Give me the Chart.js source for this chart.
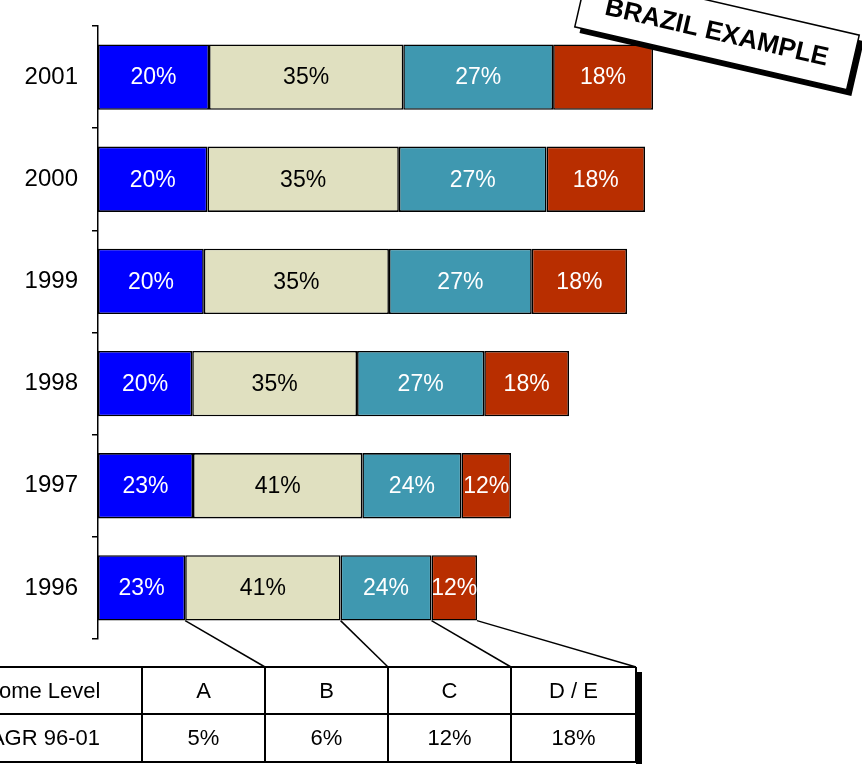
<!DOCTYPE html>
<html>
<head>
<meta charset="utf-8">
<script src="https://cdn.jsdelivr.net/npm/chart.js@4/dist/chart.umd.min.js"></script>
<style>
  html, body { margin: 0; padding: 0; background: #fff; }
  #wrap { width: 862px; height: 764px; }
</style>
</head>
<body>
<div id="wrap"><canvas id="c" width="862" height="764"></canvas></div>
<script>
// Market volume by year, split by income level
const years = ['2001', '2000', '1999', '1998', '1997', '1996'];
const totals = [555, 547, 529, 471, 413, 379];
const shareA = [20, 20, 20, 20, 23, 23];
const shareB = [35, 35, 35, 35, 41, 41];
const shareC = [27, 27, 27, 27, 24, 24];
const shareDE = [18, 18, 18, 18, 12, 12];

const levelNames = ['A', 'B', 'C', 'D / E'];
const tableRowLabels = ['Income Level', 'CAGR 96-01'];
const cagr = ['5%', '6%', '12%', '18%'];

const FONT = '"Liberation Sans", Arial, sans-serif';
const shares = [shareA, shareB, shareC, shareDE];
const fills = ['#0000FF', '#E0E0C0', '#3F98B0', '#B82E00'];
const labelColors = ['#FFFFFF', '#000000', '#FFFFFF', '#FFFFFF'];

const datasets = shares.map((s, i) => ({
  label: levelNames[i],
  data: s.map((p, j) => totals[j] * p / 100),
  backgroundColor: fills[i],
  borderColor: '#000',
  borderWidth: 1.6,
  borderSkipped: false,
  barPercentage: 0.64,
  categoryPercentage: 1
}));

// Percentage labels centred in each segment
const shareLabels = {
  id: 'shareLabels',
  afterDatasetsDraw(chart) {
    const ctx = chart.ctx;
    ctx.save();
    ctx.font = '23px ' + FONT;
    ctx.textAlign = 'center';
    ctx.textBaseline = 'middle';
    chart.data.datasets.forEach((ds, i) => {
      chart.getDatasetMeta(i).data.forEach((el, j) => {
        ctx.fillStyle = labelColors[i];
        ctx.fillText(shares[i][j] + '%', (el.x + el.base) / 2, el.y + 1);
      });
    });
    ctx.restore();
  }
};

// Growth table below the chart, linked to the 1996 bar
const growthTable = {
  id: 'growthTable',
  afterDraw(chart) {
    const ctx = chart.ctx;
    const colRight = [142, 265, 388, 511, 636];
    const rowY = [667, 714, 762];
    const last = years.length - 1;
    ctx.save();

    // connector lines from segment ends of the 1996 bar to the columns
    ctx.strokeStyle = '#000';
    ctx.lineWidth = 1.5;
    chart.data.datasets.forEach((ds, i) => {
      const el = chart.getDatasetMeta(i).data[last];
      const yb = el.y + el.height / 2;
      ctx.beginPath();
      ctx.moveTo(el.x, yb);
      ctx.lineTo(colRight[i + 1], rowY[0]);
      ctx.stroke();
    });

    // shadow on the right side
    ctx.fillStyle = '#000';
    ctx.fillRect(636, 672, 6, 92);

    // grid
    ctx.lineWidth = 2;
    rowY.forEach(y => {
      ctx.beginPath();
      ctx.moveTo(0, y);
      ctx.lineTo(636, y);
      ctx.stroke();
    });
    colRight.forEach(x => {
      ctx.beginPath();
      ctx.moveTo(x, rowY[0]);
      ctx.lineTo(x, rowY[2]);
      ctx.stroke();
    });

    // text
    ctx.fillStyle = '#000';
    ctx.font = '22px ' + FONT;
    ctx.textAlign = 'center';
    ctx.textBaseline = 'middle';
    const r1 = (rowY[0] + rowY[1]) / 2 + 1;
    const r2 = (rowY[1] + rowY[2]) / 2 + 1;
    ctx.fillText(tableRowLabels[0], 35, r1);
    ctx.fillText(tableRowLabels[1], 37, r2);
    levelNames.forEach((n, i) => {
      const cx = (colRight[i] + colRight[i + 1]) / 2;
      ctx.fillText(n, cx, r1);
      ctx.fillText(cagr[i], cx, r2);
    });
    ctx.restore();
  }
};

// Tilted badge in the top right corner
const badge = {
  id: 'badge',
  afterDraw(chart) {
    const ctx = chart.ctx;
    const w = 279, h = 56;
    ctx.save();
    ctx.translate(717, 31);
    ctx.rotate(13 * Math.PI / 180);
    ctx.fillStyle = '#000';
    ctx.fillRect(-w / 2 + 6, -h / 2 + 5, w, h);
    ctx.fillStyle = '#fff';
    ctx.fillRect(-w / 2, -h / 2, w, h);
    ctx.strokeStyle = '#000';
    ctx.lineWidth = 1.5;
    ctx.strokeRect(-w / 2, -h / 2, w, h);
    ctx.fillStyle = '#000';
    ctx.font = 'bold 26px ' + FONT;
    ctx.textAlign = 'center';
    ctx.textBaseline = 'middle';
    ctx.fillText('BRAZIL EXAMPLE', 0, 2);
    ctx.restore();
  }
};

new Chart(document.getElementById('c'), {
  type: 'bar',
  data: { labels: years, datasets },
  options: {
    indexAxis: 'y',
    responsive: false,
    animation: false,
    layout: { padding: { top: 26, bottom: 125, left: 0, right: 64 } },
    plugins: { legend: { display: false }, tooltip: { enabled: false } },
    scales: {
      x: { stacked: true, display: false, min: 0, max: 700 },
      y: {
        stacked: true,
        afterFit(scale) {
          scale.width = 98;
          scale.paddingTop = 0;
          scale.paddingBottom = 0;
        },
        grid: {
          offset: true,
          drawOnChartArea: false,
          drawTicks: true,
          tickLength: 6,
          color: '#000',
          lineWidth: 1.5
        },
        border: { display: true, color: '#000', width: 1.5 },
        ticks: {
          color: '#000',
          font: { family: FONT, size: 24 },
          padding: 14
        }
      }
    }
  },
  plugins: [shareLabels, growthTable, badge]
});
</script>
</body>
</html>
